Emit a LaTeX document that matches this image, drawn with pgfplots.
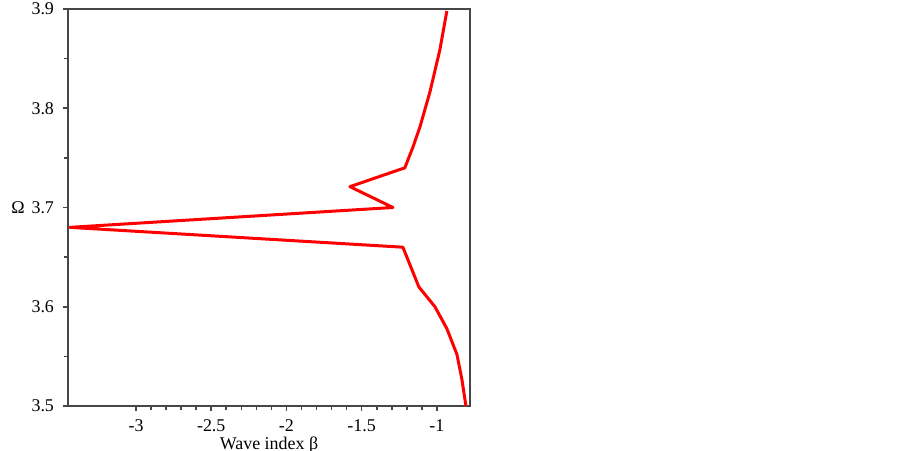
\documentclass[border=0pt]{standalone}
\usepackage{pgfplots}
\pgfplotsset{compat=1.18}
\usepackage{fontspec}
\setmainfont{Liberation Serif}
\definecolor{axisgray}{RGB}{70,70,70}
\begin{document}
\begin{tikzpicture}
\begin{axis}[
  at={(0,0)}, anchor=south west,
  scale only axis,
  width=201bp, height=198.5bp,
  xmin=-3.452, xmax=-0.78,
  ymin=3.5, ymax=3.9,
  xtick={-3,-2.5,-2,-1.5,-1},
  ytick={3.5,3.6,3.7,3.8,3.9},
  minor x tick num=4,
  minor y tick num=1,
  tick pos=left,
  tick align=outside,
  major tick length=2.5bp,
  minor tick length=1.8bp,
  axis line style={axisgray, line width=1bp},
  every tick/.style={axisgray, line width=0.8bp},
  /pgf/number format/assume math mode=true,
  yticklabel style={/pgf/number format/fixed, /pgf/number format/fixed zerofill, /pgf/number format/precision=1, xshift=-1bp},
  xticklabel style={yshift=-1bp},
  tick label style={font=\fontsize{9}{10}\selectfont, black},
  label style={font=\fontsize{9}{10}\selectfont, black},
  xlabel={Wave index β},
  xlabel style={at={(axis description cs:0.5,0)}, anchor=north, yshift=-12bp},
  ylabel={Ω},
  ylabel style={rotate=-90, at={(axis description cs:0,0.5)}, anchor=center, xshift=-25bp},
]
\addplot[red, line width=1.5bp, line join=round] coordinates {
  (-0.807,3.50) (-0.834,3.527) (-0.867,3.552) (-0.934,3.578)
  (-1.013,3.60) (-1.12,3.62) (-1.226,3.66)
  (-3.44,3.68)
  (-1.292,3.70) (-1.578,3.721) (-1.213,3.74)
  (-1.159,3.761) (-1.113,3.781) (-1.047,3.816) (-0.98,3.859) (-0.934,3.898)
};
\end{axis}
\pgfresetboundingbox
\path (-34bp,-22.5bp) rectangle (417.5bp,203bp);
\end{tikzpicture}
\end{document}
